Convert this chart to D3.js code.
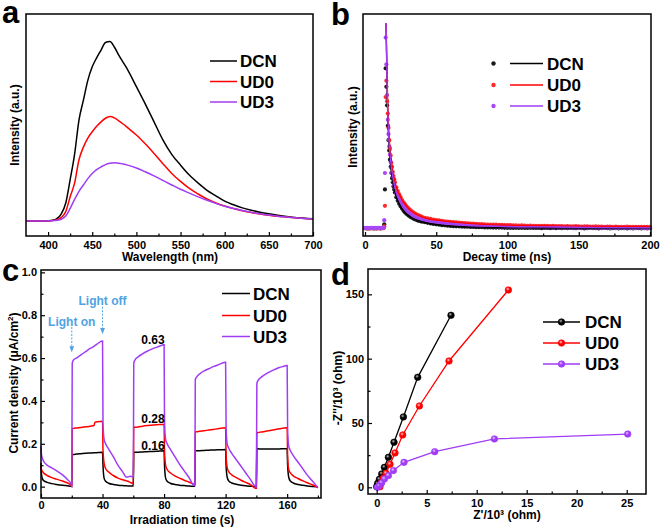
<!DOCTYPE html>
<html><head><meta charset="utf-8">
<script src="https://cdn.jsdelivr.net/npm/d3@7"></script>
<style>
body{margin:0;background:#fff}
svg{display:block}
text{font-family:"Liberation Sans",Arial,sans-serif;font-weight:bold}
</style>
</head><body>
<svg id="chart" width="661" height="527"></svg>
<script>
// ---------------- DATA ----------------
const seriesNames = ["DCN", "UD0", "UD3"];
const seriesColors = ["#000000", "#ff0000", "#a03cf6"];

// Panel a: PL spectra
const wavelength = [375,385,395,400,405,410,415,420,425,430,435,440,445,450,455,460,465,470,475,480,485,490,500,510,520,530,540,550,560,570,580,590,600,610,620,630,640,650,660,670,680,690,700];
const plDCN = [0,0,0,0.001,0.004,0.014,0.04,0.1,0.23,0.37,0.56,0.67,0.78,0.855,0.905,0.948,0.99,0.995,0.965,0.92,0.88,0.84,0.745,0.65,0.55,0.45,0.37,0.31,0.255,0.21,0.17,0.14,0.11,0.09,0.073,0.06,0.049,0.04,0.032,0.025,0.02,0.015,0.012];
const plUD0 = [0,0,0,0.001,0.003,0.008,0.02,0.052,0.135,0.21,0.34,0.41,0.46,0.495,0.525,0.55,0.57,0.579,0.572,0.556,0.538,0.518,0.477,0.428,0.375,0.318,0.264,0.22,0.181,0.15,0.122,0.1,0.083,0.069,0.057,0.047,0.039,0.032,0.026,0.022,0.018,0.014,0.011];
const plUD3 = [0,0,0,0.001,0.002,0.004,0.01,0.028,0.07,0.12,0.165,0.2,0.235,0.264,0.285,0.3,0.313,0.32,0.323,0.321,0.316,0.31,0.294,0.273,0.25,0.225,0.2,0.176,0.155,0.134,0.115,0.098,0.082,0.069,0.058,0.048,0.04,0.033,0.027,0.022,0.018,0.014,0.011];

// Panel b: decay (scatter) + fits
const tDecay = [0,1,2,3,4,5,6,7,8,9,10,11,12,13,
 13.5,14,14.5,15,15.5,16,16.5,17,17.5,18,18.5,19,19.5,20,20.5,21,
 22,23,24,25,26,27,28,29,30,31,32,33,34,35,36,37,38,39,40,
 42,44,46,48,50,52,54,56,58,60,62,64,66,68,70,72,74,76,78,80,
 82,84,86,88,90,92,94,96,98,100,102,104,106,108,110,112,114,116,118,120,
 122,124,126,128,130,132,134,136,138,140,142,144,146,148,150,152,154,156,158,160,
 162,164,166,168,170,172,174,176,178,180,182,184,186,188,190,192,194,196,198,200];
const decDCN = [0.002,0,0.001,0,0.002,0.001,0,0.002,0,0.001,0.002,0,0.001,0.003,
 0.02,0.19,0.78,0.69,0.6,0.5,0.43,0.38,0.335,0.3,0.27,0.245,0.225,0.205,0.19,0.175,
 0.152,0.135,0.12,0.108,0.097,0.087,0.079,0.072,0.066,0.061,0.056,0.052,0.048,0.045,0.042,0.039,0.037,0.035,0.033,
 0.03,0.027,0.024,0.022,0.02,0.018,0.016,0.015,0.013,0.012,
 0.011,0.01,0.01,0.009,0.008,0.008,0.007,0.007,0.006,0.006,
 0.006,0.005,0.005,0.005,0.004,0.004,0.004,0.004,0.003,0.003,
 0.003,0.002,0.003,0.002,0.003,0.002,0.002,0.003,0.002,0.002,
 0.002,0.001,0.002,0.002,0.001,0.002,0.001,0.002,0.001,0.002,
 0.001,0.002,0.001,0.001,0.002,0.001,0,0.001,0.002,0.001,
 0.001,0,0.001,0.002,0.001,0,0.001,0.001,0,0.001,
 0.001,0,0.001,0,0.001,0.001,0,0.001,0,0.001];
const decUD0 = [0.001,0.002,0,0.001,0,0.002,0.001,0,0.001,0.002,0,0.001,0.002,0.001,
 0.01,0.11,0.64,0.72,0.62,0.56,0.49,0.43,0.39,0.355,0.32,0.3,0.275,0.255,0.24,0.225,
 0.2,0.182,0.166,0.152,0.138,0.127,0.118,0.109,0.101,0.094,0.088,0.082,0.077,0.073,0.069,0.065,0.062,0.059,0.056,
 0.052,0.049,0.046,0.043,0.041,0.039,0.037,0.035,0.033,0.032,
 0.031,0.029,0.028,0.027,0.026,0.025,0.024,0.023,0.022,0.021,
 0.021,0.02,0.019,0.019,0.018,0.018,0.017,0.017,0.016,0.016,
 0.016,0.015,0.015,0.014,0.015,0.014,0.013,0.014,0.013,0.013,
 0.012,0.013,0.012,0.012,0.011,0.012,0.011,0.011,0.011,0.01,
 0.011,0.01,0.01,0.011,0.01,0.009,0.01,0.01,0.009,0.009,
 0.01,0.009,0.009,0.008,0.009,0.009,0.008,0.009,0.008,0.008,
 0.008,0.009,0.008,0.008,0.007,0.008,0.008,0.007,0.008,0.007];
const decUD3 = [0.003,0.002,0.003,0.002,0.003,0.003,0.002,0.003,0.002,0.003,0.003,0.002,0.003,0.004,
 0.04,0.27,0.93,0.8,0.65,0.53,0.46,0.4,0.36,0.325,0.295,0.27,0.25,0.23,0.212,0.198,
 0.172,0.155,0.14,0.127,0.115,0.105,0.096,0.088,0.081,0.075,0.069,0.064,0.06,0.056,0.052,0.049,0.046,0.044,0.042,
 0.039,0.036,0.034,0.032,0.03,0.028,0.026,0.025,0.023,0.022,
 0.021,0.02,0.019,0.018,0.017,0.016,0.015,0.015,0.014,0.013,
 0.013,0.012,0.012,0.011,0.011,0.01,0.01,0.01,0.009,0.009,
 0.009,0.008,0.009,0.008,0.008,0.007,0.008,0.007,0.007,0.007,
 0.006,0.007,0.006,0.006,0.006,0.005,0.006,0.005,0.005,0.005,
 0.005,0.005,0.004,0.005,0.004,0.004,0.005,0.004,0.004,0.004,
 0.004,0.004,0.003,0.004,0.004,0.003,0.004,0.003,0.003,0.004,
 0.003,0.004,0.003,0.003,0.003,0.004,0.003,0.003,0.003,0.003];
const tFit = [14.8,15.5,16,16.5,17,18,19,20,22,24,26,28,30,33,36,40,45,50,60,70,80,100,125,150,175,200];
const fitDCN = [1.0,0.68,0.54,0.45,0.39,0.305,0.25,0.208,0.153,0.121,0.097,0.079,0.066,0.052,0.042,0.033,0.025,0.02,0.012,0.008,0.006,0.003,0.002,0.001,0.001,0.001];
const fitUD0 = [1.0,0.74,0.6,0.51,0.44,0.36,0.302,0.258,0.2,0.166,0.138,0.118,0.101,0.082,0.069,0.056,0.045,0.04,0.032,0.026,0.021,0.016,0.013,0.011,0.009,0.008];
const fitUD3 = [1.0,0.7,0.56,0.47,0.41,0.328,0.272,0.231,0.172,0.14,0.115,0.096,0.081,0.064,0.052,0.042,0.035,0.03,0.022,0.015,0.013,0.009,0.007,0.005,0.004,0.003];

// Panel c: transient photocurrent
const tPhoto = [0,0.3,1,2,4,7,10,14,17,19.7,
 20,20.3,21,23,26,29,32,34.5,35,37,39.7,
 40,40.3,41,42,44,47,50,53,55.5,56.5,58,59.7,
 60,60.3,61,63,66,69,72,75,77,79.7,
 80,80.3,81,82,84,87,90,93,96,99.7,
 100,100.3,101,103,106,109,112,115,117,119.7,
 120,120.3,121,122,124,127,130,133,136,139.7,
 140,140.3,141,143,146,149,152,155,157,159.7,
 160,160.3,161,162,164,167,170,173,176,180];
const jDCN = [0.11,0.06,0.035,0.027,0.02,0.014,0.01,0.006,0.004,0.002,
 0.002,0.148,0.15,0.152,0.154,0.156,0.157,0.158,0.158,0.159,0.16,
 0.16,0.1,0.04,0.025,0.016,0.01,0.007,0.005,0.004,0.003,0.003,0.003,
 0.003,0.16,0.16,0.161,0.162,0.163,0.164,0.165,0.166,0.167,
 0.167,0.1,0.04,0.025,0.016,0.01,0.007,0.005,0.003,0.002,
 0.002,0.168,0.168,0.168,0.169,0.17,0.171,0.172,0.172,0.173,
 0.173,0.1,0.045,0.027,0.017,0.011,0.007,0.004,0.002,0.0,
 0.0,0.178,0.177,0.176,0.176,0.176,0.176,0.176,0.177,0.177,
 0.177,0.1,0.045,0.027,0.017,0.01,0.006,0.003,0.001,0.0];
const jUD0 = [0.095,0.08,0.07,0.062,0.052,0.042,0.035,0.026,0.018,0.005,
 0.0,0.27,0.272,0.274,0.276,0.279,0.282,0.285,0.3,0.303,0.305,
 0.305,0.17,0.11,0.085,0.068,0.052,0.04,0.032,0.027,0.025,0.02,0.015,
 0.015,0.28,0.277,0.278,0.282,0.285,0.287,0.289,0.29,0.29,
 0.29,0.16,0.1,0.08,0.065,0.05,0.04,0.03,0.022,0.012,
 0.012,0.255,0.256,0.258,0.261,0.264,0.267,0.27,0.272,0.275,
 0.275,0.15,0.09,0.07,0.055,0.042,0.03,0.02,0.01,-0.008,
 -0.008,0.25,0.252,0.255,0.258,0.262,0.266,0.27,0.272,0.275,
 0.275,0.14,0.08,0.065,0.05,0.038,0.028,0.018,0.01,-0.005];
const jUD3 = [0.19,0.15,0.13,0.115,0.1,0.088,0.075,0.055,0.035,0.01,
 0.0,0.575,0.59,0.6,0.615,0.63,0.645,0.655,0.658,0.668,0.68,
 0.68,0.3,0.22,0.2,0.175,0.14,0.1,0.07,0.045,0.045,0.048,0.046,
 0.046,0.575,0.59,0.605,0.62,0.632,0.642,0.65,0.655,0.662,
 0.662,0.3,0.22,0.2,0.175,0.14,0.105,0.075,0.045,0.005,
 0.005,0.5,0.51,0.525,0.54,0.55,0.56,0.568,0.574,0.58,
 0.58,0.28,0.2,0.18,0.155,0.125,0.095,0.065,0.035,0.0,
 0.0,0.48,0.495,0.51,0.525,0.537,0.547,0.556,0.56,0.565,
 0.565,0.27,0.19,0.17,0.145,0.115,0.085,0.055,0.03,-0.005];
const photoLabels = ["0.63", "0.28", "0.16"];
const photoLabelT = [72.8, 72.8, 72.8];
const photoLabelV = [0.685, 0.316, 0.19];
const lightLabels = ["Light on", "Light off"];
const lightT = [20, 40];
const lightTextV = [0.77, 0.87];
const lightArrowTop = [0.745, 0.84];
const lightArrowEnd = [0.63, 0.715];

// Panel d: Nyquist
const zReDCN = [0, 0.1, 0.27, 0.5, 0.77, 1.17, 1.73, 2.67, 4.1, 7.43];
const zImDCN = [0.5, 3.1, 6.2, 10.4, 15.5, 23.3, 35, 54.7, 85.5, 133.7];
const zReUD0 = [0.33, 0.43, 0.67, 0.93, 1.33, 1.83, 2.6, 4.27, 7.23, 13.17];
const zImUD0 = [0.5, 3.1, 7, 10.9, 17.9, 26.7, 40.7, 63.2, 98.2, 153.4];
const zReUD3 = [0.07, 0.27, 0.5, 0.77, 1.17, 1.67, 2.73, 5.8, 11.77, 25.1];
const zImUD3 = [0, 1.3, 3.6, 6.5, 9.1, 13, 19.4, 27.7, 37.6, 41.4];

// Tick values
const ticksA = [400,450,500,550,600,650,700], minorA = [425,475,525,575,625,675];
const ticksB = [0,50,100,150,200], minorB = [25,75,125,175];
const ticksCx = [0,40,80,120,160], minorCx = [20,60,100,140,180];
const ticksCy = [0,0.2,0.4,0.6,0.8,1.0], minorCy = [0.1,0.3,0.5,0.7,0.9];
const ticksDx = [0,5,10,15,20,25], minorDx = [2.5,7.5,12.5,17.5,22.5];
const ticksDy = [0,50,100,150], minorDy = [25,75,125];

// ---------------- DRAWING ----------------
const svg = d3.select("#chart");
const FONT = '"Liberation Sans", Arial, sans-serif';
const SERIF = '"Liberation Serif", "Times New Roman", serif';

const defs = svg.append("defs");
const hiCols = ["#bbbbbb", "#ffd0d0", "#e6c8ff"];
seriesColors.forEach((c, i) => {
  const g = defs.append("radialGradient").attr("id", "ball" + i).attr("cx", "40%").attr("cy", "35%").attr("r", "65%");
  g.append("stop").attr("offset", "0%").attr("stop-color", hiCols[i]);
  g.append("stop").attr("offset", "45%").attr("stop-color", c);
  g.append("stop").attr("offset", "100%").attr("stop-color", c);
});
defs.append("marker").attr("id", "arrowBlue").attr("viewBox", "0 0 10 10").attr("refX", 9).attr("refY", 5)
  .attr("markerWidth", 6).attr("markerHeight", 6).attr("orient", "auto")
  .append("path").attr("d", "M0,1 L10,5 L0,9 Z").attr("fill", "#4fa3e3");

function frame(g, x, y) {
  const [x0, x1] = x.range(), [y0, y1] = y.range();
  g.append("rect").attr("x", x0).attr("y", y1).attr("width", x1 - x0).attr("height", y0 - y1)
    .attr("fill", "none").attr("stroke", "#000").attr("stroke-width", 1.5);
}
function styleAxis(ax) {
  ax.select(".domain").remove();
  ax.selectAll("line").attr("stroke", "#000").attr("stroke-width", 1.2);
  ax.selectAll("text").attr("font-size", 11).attr("font-weight", "bold").attr("font-family", FONT).attr("fill", "#000");
}
function bottomAxis(g, x, y, major, minor, fmt, pad) {
  const ty = y.range()[0];
  const a = g.append("g").attr("transform", `translate(0,${ty})`)
    .call(d3.axisBottom(x).tickValues(major).tickSize(-4).tickPadding(pad || 5).tickFormat(fmt));
  styleAxis(a);
  const m = g.append("g").attr("transform", `translate(0,${ty})`)
    .call(d3.axisBottom(x).tickValues(minor).tickSize(-2.5).tickFormat(""));
  styleAxis(m);
}
function leftAxis(g, x, y, major, minor, fmt) {
  const tx = x.range()[0];
  const a = g.append("g").attr("transform", `translate(${tx},0)`)
    .call(d3.axisLeft(y).tickValues(major).tickSize(-4).tickPadding(4).tickFormat(fmt));
  styleAxis(a);
  const m = g.append("g").attr("transform", `translate(${tx},0)`)
    .call(d3.axisLeft(y).tickValues(minor).tickSize(-2.5).tickFormat(""));
  styleAxis(m);
}
function xTitle(g, x, ty, txt) {
  g.append("text").attr("x", x).attr("y", ty).attr("text-anchor", "middle").attr("font-size", 12).text(txt);
}
function yTitle(g, tx, cy, txt) {
  return g.append("text").attr("transform", `translate(${tx},${cy}) rotate(-90)`).attr("text-anchor", "middle")
    .attr("font-size", 12).text(txt);
}
function panelLetter(px, py, s) {
  svg.append("text").attr("x", px).attr("y", py).attr("font-family", SERIF).attr("font-size", 31)
    .attr("font-weight", "bold").text(s);
}

// ----- Panel a -----
{
  const g = svg.append("g");
  const x = d3.scaleLinear().domain([375, 700]).range([26, 313]);
  const y = d3.scaleLinear().domain([-0.083, 1.148]).range([236, 14]);
  const sets = [plDCN, plUD0, plUD3];
  const line = d3.line().x(d => x(d[0])).y(d => y(d[1])).curve(d3.curveMonotoneX);
  sets.forEach((s, i) => {
    g.append("path").datum(wavelength.map((w, k) => [w, s[k]])).attr("d", line)
      .attr("fill", "none").attr("stroke", seriesColors[i]).attr("stroke-width", 1.5);
  });
  frame(g, x, y);
  bottomAxis(g, x, y, ticksA, minorA, d3.format("d"));
  xTitle(g, 170, 261, "Wavelength (nm)");
  yTitle(g, 19, 125, "Intensity (a.u.)");
  const ly = [61, 81.5, 102];
  seriesNames.forEach((n, i) => {
    g.append("line").attr("x1", 210).attr("x2", 237).attr("y1", ly[i]).attr("y2", ly[i])
      .attr("stroke", seriesColors[i]).attr("stroke-width", 1.5);
    g.append("text").attr("x", 240).attr("y", ly[i] + 6).attr("font-size", 17).text(n);
  });
  panelLetter(2, 23, "a");
}

// ----- Panel b -----
{
  const g = svg.append("g");
  const x = d3.scaleLinear().domain([-1.4, 200.7]).range([363, 651]);
  const y = d3.scaleLinear().domain([-0.037, 1.045]).range([236, 14]);
  const sc = [decDCN, decUD0, decUD3];
  const fits = [fitDCN, fitUD0, fitUD3];
  const dotCol = ["#1a1a1a", "#ff2a2a", "#a848f6"];
  sc.forEach((s, i) => {
    g.append("g").selectAll("circle").data(tDecay.map((t, k) => [t, s[k]])).join("circle")
      .attr("cx", d => x(d[0])).attr("cy", d => y(d[1])).attr("r", 2.1).attr("fill", dotCol[i]);
  });
  const line = d3.line().x(d => x(d[0])).y(d => y(d[1])).curve(d3.curveMonotoneX);
  fits.forEach((f, i) => {
    g.append("path").datum(tFit.map((t, k) => [t, f[k]])).attr("d", line)
      .attr("fill", "none").attr("stroke", seriesColors[i]).attr("stroke-width", 1.3);
  });
  frame(g, x, y);
  bottomAxis(g, x, y, ticksB, minorB, d3.format("d"));
  xTitle(g, 507, 261, "Decay time (ns)");
  yTitle(g, 357, 127, "Intensity (a.u.)");
  const ly = [63.5, 85, 106];
  seriesNames.forEach((n, i) => {
    g.append("circle").attr("cx", 493.5).attr("cy", ly[i]).attr("r", 2.2).attr("fill", dotCol[i]);
    g.append("line").attr("x1", 510).attr("x2", 543).attr("y1", ly[i]).attr("y2", ly[i])
      .attr("stroke", seriesColors[i]).attr("stroke-width", 1.5);
    g.append("text").attr("x", 547).attr("y", ly[i] + 6).attr("font-size", 17).text(n);
  });
  panelLetter(331, 25, "b");
}

// ----- Panel c -----
{
  const g = svg.append("g");
  const x = d3.scaleLinear().domain([0, 182]).range([41, 321]);
  const y = d3.scaleLinear().domain([-0.053, 1.011]).range([498, 270]);
  const sets = [jDCN, jUD0, jUD3];
  const line = d3.line().x(d => x(d[0])).y(d => y(d[1])).curve(d3.curveMonotoneX);
  sets.forEach((s, i) => {
    g.append("path").datum(tPhoto.map((t, k) => [t, s[k]])).attr("d", line)
      .attr("fill", "none").attr("stroke", seriesColors[i]).attr("stroke-width", 1.5);
  });
  frame(g, x, y);
  bottomAxis(g, x, y, ticksCx, minorCx, d3.format("d"), 3);
  leftAxis(g, x, y, ticksCy, minorCy, d3.format(".1f"));
  xTitle(g, 182, 524, "Irradiation time (s)");
  const yt = g.append("text").attr("transform", "translate(18,383) rotate(-90)").attr("text-anchor", "middle").attr("font-size", 12);
  yt.append("tspan").text("Current density (\u03bcA/cm");
  yt.append("tspan").attr("font-size", 8).attr("dy", -5).text("2");
  yt.append("tspan").attr("dy", 5).text(")");
  photoLabels.forEach((s, i) => {
    g.append("text").attr("x", x(photoLabelT[i])).attr("y", y(photoLabelV[i]) + 4.5).attr("text-anchor", "middle")
      .attr("font-size", 12).text(s);
  });
  lightLabels.forEach((s, i) => {
    g.append("text").attr("x", x(lightT[i])).attr("y", y(lightTextV[i]) + 4.5).attr("text-anchor", "middle")
      .attr("font-size", 12).attr("fill", "#4fa3e3").text(s);
    g.append("line").attr("x1", x(lightT[i])).attr("x2", x(lightT[i])).attr("y1", y(lightArrowTop[i])).attr("y2", y(lightArrowEnd[i]))
      .attr("stroke", "#4fa3e3").attr("stroke-width", 1).attr("stroke-dasharray", "2,1.5").attr("marker-end", "url(#arrowBlue)");
  });
  const ly = [293.5, 315.5, 336.5];
  seriesNames.forEach((n, i) => {
    g.append("line").attr("x1", 222).attr("x2", 250).attr("y1", ly[i]).attr("y2", ly[i])
      .attr("stroke", seriesColors[i]).attr("stroke-width", 1.5);
    g.append("text").attr("x", 253).attr("y", ly[i] + 6).attr("font-size", 17).text(n);
  });
  panelLetter(2, 281, "c");
}

// ----- Panel d -----
{
  const g = svg.append("g");
  const x = d3.scaleLinear().domain([-0.87, 26.93]).range([368, 646]);
  const y = d3.scaleLinear().domain([-5.2, 169.7]).range([494, 269]);
  const sets = [[zReDCN, zImDCN], [zReUD0, zImUD0], [zReUD3, zImUD3]];
  const line = d3.line().x(d => x(d[0])).y(d => y(d[1]));
  sets.forEach(([xs, ys], i) => {
    const pts = xs.map((v, k) => [v, ys[k]]);
    g.append("path").datum(pts).attr("d", line).attr("fill", "none").attr("stroke", seriesColors[i]).attr("stroke-width", 1.3);
    g.append("g").selectAll("circle").data(pts).join("circle")
      .attr("cx", d => x(d[0])).attr("cy", d => y(d[1])).attr("r", 3.3)
      .attr("fill", `url(#ball${i})`).attr("stroke", seriesColors[i]).attr("stroke-width", 0.6);
  });
  frame(g, x, y);
  bottomAxis(g, x, y, ticksDx, minorDx, d3.format("d"));
  leftAxis(g, x, y, ticksDy, minorDy, d3.format("d"));
  xTitle(g, 507, 519, "Z'/10\u00b3 (ohm)");
  yTitle(g, 342, 388, "-Z''/10\u00b3 (ohm)");
  const ly = [322, 343, 364];
  seriesNames.forEach((n, i) => {
    g.append("line").attr("x1", 543).attr("x2", 580).attr("y1", ly[i]).attr("y2", ly[i])
      .attr("stroke", seriesColors[i]).attr("stroke-width", 1.5);
    g.append("circle").attr("cx", 561.5).attr("cy", ly[i]).attr("r", 3.3)
      .attr("fill", `url(#ball${i})`).attr("stroke", seriesColors[i]).attr("stroke-width", 0.6);
    g.append("text").attr("x", 585).attr("y", ly[i] + 6).attr("font-size", 17).text(n);
  });
  panelLetter(331, 285, "d");
}
</script>
</body></html>
